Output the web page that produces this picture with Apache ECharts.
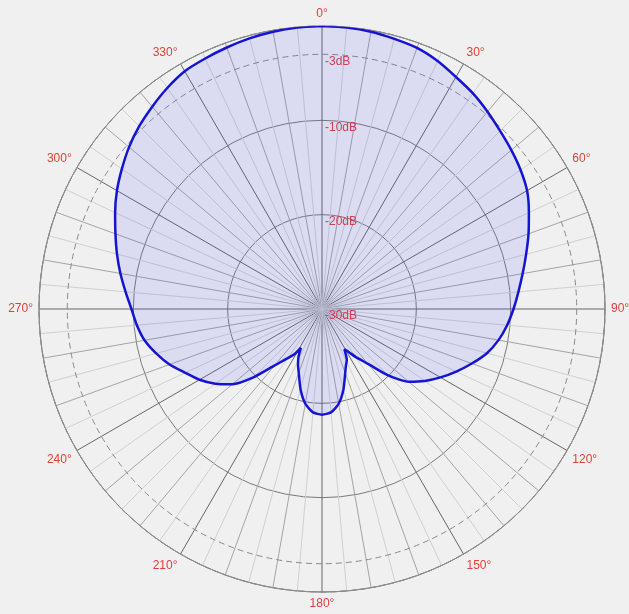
<!DOCTYPE html>
<html>
<head>
<meta charset="utf-8">
<script src="https://cdn.jsdelivr.net/npm/echarts@6/dist/echarts.min.js"></script>
<style>
  html, body { margin: 0; padding: 0; background: #f0f0f0; }
  #chart { width: 629px; height: 614px; }
</style>
</head>
<body>
<div id="chart"></div>
<script>
// 각도(도) - 방향 패턴 측정 지점
const angles = [
    0, 5, 10, 15, 20, 25, 30, 35, 40, 45, 50, 55, 60, 65, 70, 75, 80, 85, 90,
    95, 100, 105, 110, 115, 120, 125, 130, 135, 140, 145, 148, 151, 154, 157,
    160, 165, 170, 175, 180, 185, 190, 195, 200, 203, 206, 208.5, 211, 215,
    220, 225, 230, 235, 240, 245, 250, 255, 260, 265, 270, 275, 280, 285, 290,
    295, 300, 305, 310, 315, 320, 325, 330, 335, 340, 345, 350, 355, 360
];

// 상대 감도 (dB)
const gainDb = [
    0, -0.05, -0.15, -0.35, -0.55, -1.0, -1.6, -2.1, -2.7, -3.3, -3.8, -4.3, -4.9, -5.8, -6.7, -7.6, -8.4, -9.1, -9.7,
    -10.3, -11.0, -11.9, -13.1, -14.3, -15.5, -16.7, -18.0, -20.0, -22.4, -23.8, -24.6, -25.1, -24.0, -23.5,
    -22.8, -21.2, -19.8, -19.0, -18.8, -19.0, -19.8, -21.2, -22.8, -23.5, -24.3, -25.3, -24.5, -23.6,
    -22.2, -19.8, -17.6, -16.2, -15.0, -14.0, -12.8, -11.8, -10.9, -10.3, -9.8, -9.1, -8.3, -7.5, -6.7,
    -5.8, -4.9, -4.1, -3.3, -2.6, -2.0, -1.4, -0.9, -0.7, -0.5, -0.3, -0.15, -0.05, 0
];

// 눈금 라벨
const solidRingLabels = [-30, -20, -10];
const dashedRingLabels = [-3];

const chart = echarts.init(document.getElementById('chart'));

const labelRed = '#e0403c';
const center = [322, 309];
const radius = 283;

// 반지름 축 라벨 공통 스타일 (축 오른쪽, 링 바로 아래)
const ringLabelStyle = {
    color: labelRed,
    fontSize: 12,
    fontFamily: 'Liberation Sans, Arial, sans-serif',
    align: 'left',
    verticalAlign: 'top',
    padding: [1, 0, 0, 3]
};

const option = {
    backgroundColor: '#f0f0f0',
    animation: false,
    polar: [
        { center: center, radius: radius },
        { center: center, radius: radius }
    ],
    angleAxis: [
        {
            polarIndex: 0,
            type: 'value',
            min: 0,
            max: 360,
            interval: 5,
            startAngle: 90,
            clockwise: true,
            axisLine: { lineStyle: { color: '#8c8c8c', width: 1 } },
            axisTick: { show: false },
            axisLabel: {
                color: labelRed,
                fontSize: 12,
                fontFamily: 'Liberation Sans, Arial, sans-serif',
                margin: 6,
                formatter: function (v) {
                    return (v % 30 === 0 && v < 360) ? v + '°' : '';
                }
            },
            // 30° 진한 선, 10° 중간, 5° 옅은 선
            splitLine: {
                lineStyle: {
                    color: ['#666666', '#d0d0d0', '#a4a4a4', '#d0d0d0', '#a4a4a4', '#d0d0d0'],
                    width: 1
                }
            }
        },
        {
            polarIndex: 1,
            type: 'value',
            min: 0,
            max: 360,
            startAngle: 90,
            axisLine: { show: false },
            axisTick: { show: false },
            axisLabel: { show: false },
            splitLine: { show: false }
        }
    ],
    radiusAxis: [
        {
            polarIndex: 0,
            type: 'value',
            min: -30,
            max: 0,
            interval: 10,
            axisLine: { show: false },
            axisTick: { show: false },
            axisLabel: Object.assign({
                margin: 0,
                formatter: function (v) {
                    return solidRingLabels.indexOf(v) >= 0 ? v + 'dB' : '';
                }
            }, ringLabelStyle),
            splitLine: { lineStyle: { color: '#7a7a7a', width: 1 } }
        },
        {
            polarIndex: 1,
            type: 'value',
            min: -30,
            max: 0,
            interval: 27,
            z: 1,
            axisLine: { show: false },
            axisTick: { show: false },
            axisLabel: Object.assign({
                margin: 0,
                formatter: function (v) {
                    return dashedRingLabels.indexOf(v) >= 0 ? v + 'dB' : '';
                }
            }, ringLabelStyle),
            splitLine: { lineStyle: { color: '#8a8a8a', width: 1, type: [6, 4] } }
        }
    ],
    series: [
        {
            type: 'line',
            coordinateSystem: 'polar',
            polarIndex: 0,
            symbol: 'none',
            smooth: 0.2,
            data: angles.map((a, i) => [gainDb[i], a]),
            lineStyle: { color: '#1414d2', width: 2.5 },
            areaStyle: { origin: 'start', color: 'rgba(70, 70, 250, 0.18)' },
            z: 3
        }
    ]
};

chart.setOption(option);
</script>
</body>
</html>
